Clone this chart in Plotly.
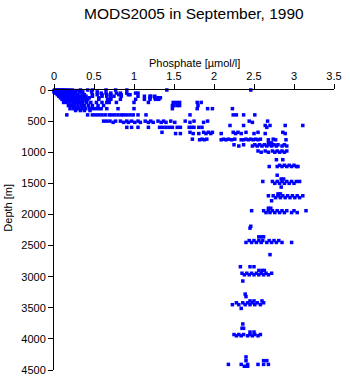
import plotly.graph_objects as go

# Observed depth levels [m] and the phosphate values [umol/l] measured at each level
levels_m = [
    0, 10, 20, 30, 50, 75, 100, 125, 150, 175, 200, 250, 300, 330, 400, 500, 520,
    570, 600, 680, 700, 790, 800, 850, 880, 900, 980, 1000, 1120, 1210, 1230,
    1370, 1430, 1470, 1500, 1560, 1670, 1700, 1730, 1780, 1900, 1940, 1970,
    2190, 2220, 2360, 2420, 2450, 2646, 2840, 2900, 2945, 2970, 3070, 3280,
    3320, 3390, 3420, 3450, 3510, 3760, 3830, 3890, 3930, 3950, 4290, 4350,
    4410, 4440,
]

phosphate_by_level = [
    [0.01, 0.03, 0.05, 0.07, 0.09, 0.11, 0.13, 0.16, 0.19, 0.23, 0.33, 0.42, 0.48, 0.65, 0.77, 0.91, 1.41, 2.46],
    [0.0, 0.02, 0.04, 0.06, 0.08, 0.10, 0.12, 0.14, 0.17, 0.20, 0.28],
    [0.01, 0.03, 0.05, 0.07, 0.09, 0.11, 0.14, 0.18, 0.22],
    [0.0, 0.02, 0.04, 0.06, 0.09, 0.12, 0.15, 0.19, 0.25, 0.32, 0.36, 0.47, 0.54],
    [0.02, 0.05, 0.08, 0.11, 0.14, 0.17, 0.21, 0.27, 0.35, 0.59, 0.65, 0.71, 0.78, 0.83, 0.91, 1.02, 1.05],
    [0.04, 0.07, 0.10, 0.13, 0.16, 0.20, 0.24, 0.30, 0.38, 0.48, 0.54, 0.60, 0.66, 0.71, 0.81, 0.84, 0.93, 0.95],
    [0.06, 0.09, 0.12, 0.15, 0.18, 0.22, 0.26, 0.30, 0.34, 0.40, 0.48, 0.60, 0.66, 0.75, 0.84, 1.05, 1.13, 1.20, 1.21, 1.26],
    [0.08, 0.11, 0.14, 0.17, 0.20, 0.24, 0.28, 0.33, 0.38, 0.44, 0.56, 0.71, 1.20, 1.26, 1.30, 1.33],
    [0.10, 0.13, 0.16, 0.20, 0.23, 0.27, 0.31, 0.36, 0.42, 0.56, 0.67, 0.71, 0.83, 1.02, 1.13, 1.20, 1.27, 1.31],
    [0.15, 0.19, 0.23, 0.27, 0.31, 0.35, 0.40],
    [0.12, 0.16, 0.20, 0.24, 0.28, 0.32, 0.36, 0.41, 0.46, 0.53, 0.60, 0.66, 0.69, 0.78, 1.00, 1.18, 1.49, 1.53, 1.57, 1.79, 1.84],
    [0.18, 0.22, 0.26, 0.30, 0.34, 0.38, 0.43, 0.48, 0.55, 0.62, 1.48, 1.50, 1.54, 1.57, 1.80],
    [0.20, 0.24, 0.28, 0.31, 0.35, 0.39, 0.44, 0.48, 0.52, 0.56, 0.59, 0.66, 0.80, 1.00, 1.48, 1.79, 1.92, 1.98, 2.23],
    [0.27, 0.33, 0.38, 0.45],
    [0.16, 0.42, 0.48, 0.52, 0.56, 0.60, 0.64, 0.69, 0.72, 0.76, 0.80, 0.84, 0.87, 0.91, 0.95, 0.99, 1.05, 1.15, 1.70, 2.24, 2.28, 2.37, 2.51],
    [0.62, 0.66, 0.70, 0.77, 0.83, 0.91, 0.97, 1.05, 1.14, 1.21, 1.30, 1.37, 1.46, 1.64, 1.75, 1.92, 2.44, 2.67],
    [0.74, 0.87, 0.93, 1.01, 1.08, 1.18, 1.24, 1.34, 1.40, 1.51, 1.70, 1.87, 2.48],
    [2.20, 2.37, 2.64, 2.70, 2.89, 3.11],
    [0.91, 0.97, 1.05, 1.18, 1.32, 1.36, 1.40, 1.44, 1.48, 1.54, 1.58, 1.69, 1.72, 1.75, 1.81, 1.85, 2.66],
    [1.35, 1.70, 1.87, 1.93, 1.98, 2.24, 2.30, 2.40, 2.55, 2.86],
    [1.52, 1.58, 1.74, 1.81, 1.90, 1.96, 2.09, 2.27, 2.34, 2.50, 2.64, 2.89],
    [1.73, 1.85, 1.91, 2.12, 2.18, 2.26, 2.40, 2.46, 2.52, 2.58, 2.74],
    [1.82, 1.88, 2.09, 2.15, 2.22, 2.34, 2.37, 2.43, 2.49, 2.55, 2.68, 2.77, 2.90],
    [2.68, 2.72],
    [2.25, 2.37, 2.51, 2.57, 2.63, 2.69, 2.75, 2.80, 2.88],
    [2.31, 2.48, 2.54, 2.60, 2.66, 2.72, 2.78, 2.85, 2.91],
    [2.55, 2.64, 2.73, 2.79, 2.85, 2.91],
    [2.59, 2.68, 2.76, 2.82, 2.88],
    [2.78, 2.86],
    [2.82, 2.88, 2.94, 3.00],
    [2.69, 2.79, 2.85, 2.91, 2.97, 3.03, 3.05],
    [2.79],
    [2.84, 2.87],
    [2.61, 2.73, 2.79, 2.85, 2.91, 2.97, 3.03, 3.07],
    [2.76, 2.82, 2.88, 2.94, 3.00],
    [2.84],
    [2.80, 2.83],
    [2.68, 2.74, 2.80, 2.86, 2.92, 2.98, 3.04, 3.11],
    [2.77, 2.83, 2.89, 2.95, 3.01, 3.07],
    [2.72],
    [2.68, 2.71],
    [2.47, 2.62, 2.68, 2.73, 2.79, 2.85, 2.91, 3.00, 3.15],
    [2.65, 2.70, 2.76, 2.82, 2.88, 2.97, 3.04],
    [2.46],
    [2.45],
    [2.56, 2.59, 2.62],
    [2.44, 2.50, 2.56, 2.61, 2.69, 2.75, 2.81],
    [2.40, 2.47, 2.53, 2.59, 2.66, 2.72, 2.78, 2.85, 2.97],
    [2.70],
    [2.33, 2.45, 2.50],
    [2.56, 2.60, 2.63],
    [2.35, 2.41, 2.47, 2.53, 2.59, 2.65, 2.72],
    [2.38, 2.44, 2.50, 2.56, 2.62, 2.68],
    [2.36],
    [2.39],
    [2.40],
    [2.45, 2.50, 2.60],
    [2.28, 2.36, 2.42, 2.48, 2.54, 2.62],
    [2.23, 2.31, 2.39, 2.45, 2.51, 2.58],
    [2.34],
    [2.36],
    [2.35, 2.37],
    [2.45, 2.50],
    [2.25, 2.31, 2.37, 2.45, 2.51, 2.58],
    [2.28, 2.34, 2.42, 2.48, 2.55],
    [2.40],
    [2.40, 2.62, 2.66],
    [2.18, 2.34, 2.42, 2.55, 2.62, 2.68],
    [2.38, 2.42],
]

x_ticks = [0, 0.5, 1, 1.5, 2, 2.5, 3, 3.5]
x_tick_text = ["0", "0.5", "1", "1.5", "2", "2.5", "3", "3.5"]
y_ticks = [0, 500, 1000, 1500, 2000, 2500, 3000, 3500, 4000, 4500]

# Flatten level table into point lists
phosphate = []
depth = []
for lev, vals in zip(levels_m, phosphate_by_level):
    phosphate.extend(vals)
    depth.extend([lev] * len(vals))

font = "Liberation Sans, Arial, Helvetica, sans-serif"

fig = go.Figure(
    go.Scatter(
        x=phosphate,
        y=depth,
        mode="markers",
        marker=dict(symbol="square", size=3.5, color="#0000ff", line=dict(width=0)),
        cliponaxis=False,
        hoverinfo="skip",
    )
)

fig.update_layout(
    width=350,
    height=384,
    margin=dict(l=54, r=10, t=90, b=8),
    paper_bgcolor="white",
    plot_bgcolor="white",
    showlegend=False,
    font=dict(family=font, size=11, color="black"),
    xaxis=dict(
        side="top",
        range=[0, 3.5],
        tickmode="array",
        tickvals=x_ticks,
        ticktext=x_tick_text,
        ticks="outside",
        ticklen=5,
        tickwidth=1,
        tickcolor="black",
        showline=True,
        linecolor="black",
        linewidth=1,
        showgrid=False,
        zeroline=False,
    ),
    yaxis=dict(
        range=[4500, 0],
        tickmode="array",
        tickvals=y_ticks,
        ticks="outside",
        ticklen=5,
        tickwidth=1,
        tickcolor="black",
        showline=True,
        linecolor="black",
        linewidth=1,
        showgrid=False,
        zeroline=False,
    ),
    annotations=[
        dict(text="MODS2005 in September, 1990", xref="paper", yref="paper",
             x=0.5, y=1.273, xanchor="center", yanchor="middle",
             showarrow=False, font=dict(size=15.5)),
        dict(text="Phosphate [\u00b5mol/l]", xref="paper", yref="paper",
             x=0.5, y=1.098, xanchor="center", yanchor="middle",
             showarrow=False, font=dict(size=11)),
        dict(text="Depth [m]", xref="paper", yref="paper",
             x=-0.164, y=0.58, xanchor="center", yanchor="middle",
             textangle=-90, showarrow=False, font=dict(size=11)),
    ],
)

fig.write_html("out.html")
